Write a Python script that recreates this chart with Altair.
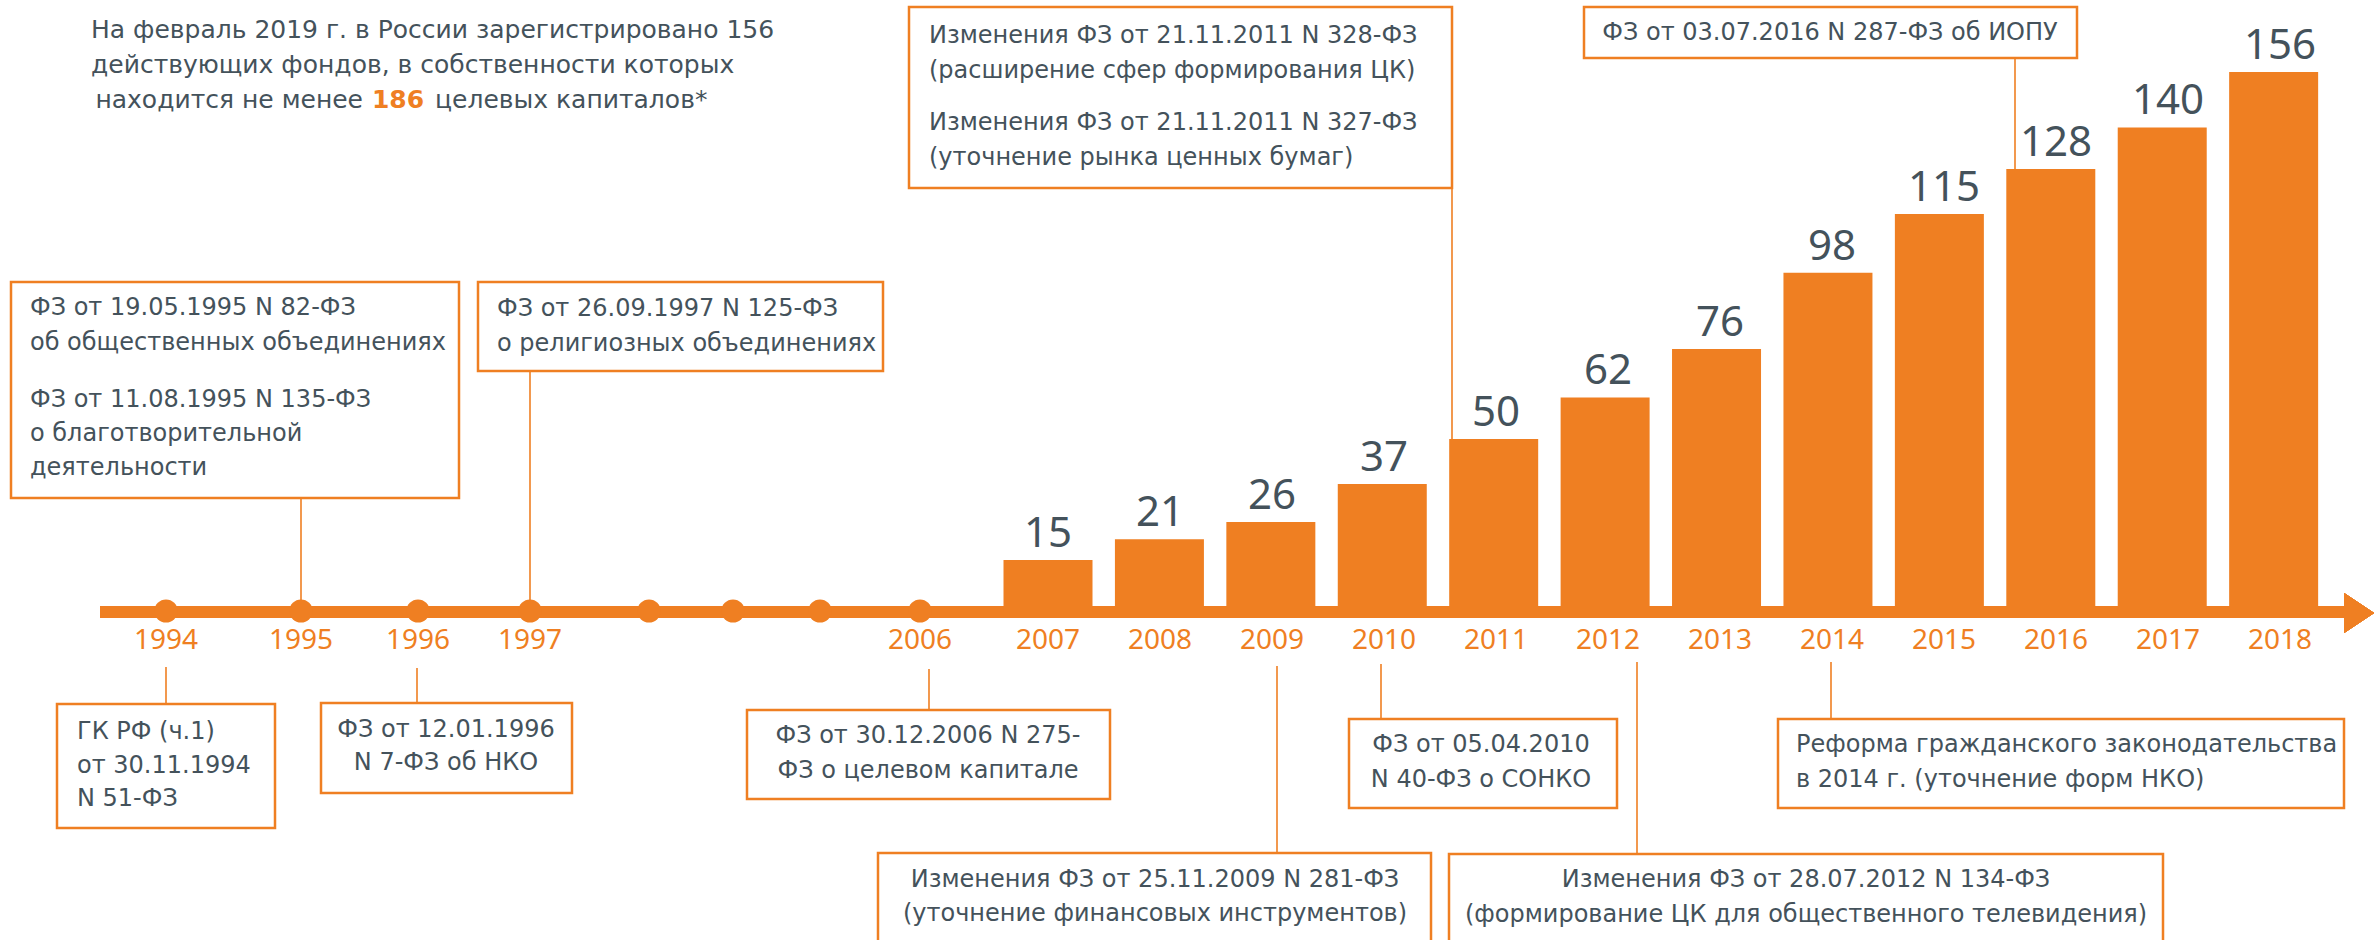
import altair as alt
import pandas as pd

# ---------------- data ----------------
bar_years = [2007, 2008, 2009, 2010, 2011, 2012, 2013, 2014, 2015, 2016, 2017, 2018]
bar_values = [15, 21, 26, 37, 50, 62, 76, 98, 115, 128, 140, 156]
dot_years = [1994, 1995, 1996, 1997, 2006]
gap_marks = [2000, 2002, 2004]          # ellipsis dots for the skipped years 1998-2005
label_years = [1994, 1995, 1996, 1997, 2006] + bar_years

intro_lines = [
    "На февраль 2019 г. в России зарегистрировано 156",
    "действующих фондов, в собственности которых",
]
intro_last = ["находится не менее", "186", "целевых капиталов*"]

annotation_text = {
    "A": ["ФЗ от 19.05.1995 N 82-ФЗ", "об общественных объединениях",
          "ФЗ от 11.08.1995 N 135-ФЗ", "о благотворительной", "деятельности"],
    "B": ["ФЗ от 26.09.1997 N 125-ФЗ", "о религиозных объединениях"],
    "C": ["Изменения ФЗ от 21.11.2011 N 328-ФЗ", "(расширение сфер формирования ЦК)",
          "Изменения ФЗ от 21.11.2011 N 327-ФЗ", "(уточнение рынка ценных бумаг)"],
    "D": ["ФЗ от 03.07.2016 N 287-ФЗ об ИОПУ"],
    "E": ["ГК РФ (ч.1)", "от 30.11.1994", "N 51-ФЗ"],
    "F": ["ФЗ от 12.01.1996", "N 7-ФЗ об НКО"],
    "G": ["ФЗ от 30.12.2006 N 275-", "ФЗ о целевом капитале"],
    "H": ["Изменения ФЗ от 25.11.2009 N 281-ФЗ", "(уточнение финансовых инструментов)"],
    "I": ["ФЗ от 05.04.2010", "N 40-ФЗ о СОНКО"],
    "J": ["Изменения ФЗ от 28.07.2012 N 134-ФЗ", "(формирование ЦК для общественного телевидения)"],
    "K": ["Реформа гражданского законодательства", "в 2014 г. (уточнение форм НКО)"],
}

# ---------------- layout (pixels) ----------------
ORANGE = "#EF7F22"
DARK = "#44525B"
FONT = "DejaVu Sans"
NUM_FONT = "Noto Sans"

# box: (x0, y0, x1, y1), text anchor x, alignment, line y's, connector (x, y_from, y_to)
layout = {
    "A": ((11, 282, 459, 498), 30, "left", [308, 343, 400, 434, 468], (301, 498, 612)),
    "B": ((478, 282, 883, 371), 497, "left", [309, 344], (530, 371, 612)),
    "C": ((909, 7, 1452, 188), 929, "left", [36, 71, 123, 158], (1452, 188, 450)),
    "D": ((1584, 7, 2077, 58), 1830, "center", [33], (2015, 58, 180)),
    "E": ((57, 704, 275, 828), 77, "left", [732, 766, 799], (166, 667, 704)),
    "F": ((321, 703, 572, 793), 446, "center", [730, 763], (417, 668, 703)),
    "G": ((747, 710, 1110, 799), 928, "center", [736, 771], (929, 669, 710)),
    "H": ((878, 853, 1431, 960), 1155, "center", [880, 914], (1277, 666, 853)),
    "I": ((1349, 719, 1617, 808), 1481, "center", [745, 780], (1381, 664, 719)),
    "J": ((1449, 854, 2163, 960), 1806, "center", [880, 915], (1637, 662, 854)),
    "K": ((1778, 719, 2344, 808), 1796, "left", [745, 780], (1831, 662, 719)),
}

XS = alt.Scale(domain=[1994, 1995, 1996, 1997, 2000, 2002, 2004, 2006, 2007, 2018],
               range=[166, 301, 418, 530, 649, 733, 820, 920, 1048, 2280],
               zero=False, nice=False)
YS = alt.Scale(domain=[0, 156], range=[612, 72], zero=True, nice=False)

# ---------------- tables ----------------
bars_df = pd.DataFrame({"year": bar_years, "value": bar_values})
dots_df = pd.DataFrame({"year": dot_years + gap_marks})
labels_df = pd.DataFrame({"year": label_years, "label": [str(y) for y in label_years]})

box_rows, link_rows, left_rows, center_rows = [], [], [], []
for key, lines in annotation_text.items():
    (x0, y0, x1, y1), tx, al, ys, (lx, ly0, ly1) = layout[key]
    box_rows.append({"x": x0, "x2": x1, "y": y0, "y2": y1})
    link_rows.append({"x": lx, "y": ly0, "y2": ly1})
    for t, yy in zip(lines, ys):
        (left_rows if al == "left" else center_rows).append({"x": tx, "y": yy, "text": t})
boxes_df = pd.DataFrame(box_rows)
links_df = pd.DataFrame(link_rows)
left_df = pd.DataFrame(left_rows)
center_df = pd.DataFrame(center_rows)

intro_df = pd.DataFrame({"x": [91, 91], "y": [30, 65], "text": intro_lines})
intro3a_df = pd.DataFrame({"x": [363], "y": [100], "text": [intro_last[0]]})
intro3b_df = pd.DataFrame({"x": [435], "y": [100], "text": [intro_last[2]]})
intro_num_df = pd.DataFrame({"x": [398], "y": [100], "text": [intro_last[1]]})

PX = lambda f: alt.X(f, scale=None, axis=None)
PY = lambda f: alt.Y(f, scale=None, axis=None)

links = alt.Chart(links_df).mark_rule(color=ORANGE, strokeWidth=1.6).encode(
    x=PX("x:Q"), y=PY("y:Q"), y2="y2:Q")

timeline = alt.Chart(bars_df).mark_rule(color=ORANGE, strokeWidth=11).encode(
    x=alt.value(100), x2=alt.value(2350), y=alt.value(612))

arrow = alt.Chart(bars_df).mark_point(
    shape="M-0.75,-1L0.75,0L-0.75,1Z", filled=True, color=ORANGE, size=1600,
    opacity=1, strokeWidth=0).encode(x=alt.value(2359), y=alt.value(613))

dots = alt.Chart(dots_df).mark_circle(size=540, color=ORANGE, opacity=1).encode(
    x=alt.X("year:Q", scale=XS, axis=None), y=alt.value(611))

bars = alt.Chart(bars_df).mark_bar(size=89, color=ORANGE).encode(
    x=alt.X("year:Q", scale=XS, axis=None),
    y=alt.Y("value:Q", scale=YS, axis=None))

values = alt.Chart(bars_df).mark_text(
    font=NUM_FONT, fontSize=42, color=DARK, baseline="bottom", dy=-4).encode(
    x=alt.X("year:Q", scale=XS, axis=None),
    y=alt.Y("value:Q", scale=YS, axis=None),
    text=alt.Text("value:Q", format="d"))

years = alt.Chart(labels_df).mark_text(
    font=NUM_FONT, fontSize=28, color=ORANGE, baseline="middle").encode(
    x=alt.X("year:Q", scale=XS, axis=None), y=alt.value(641), text="label:N")

boxes = alt.Chart(boxes_df).mark_rect(fill="white", stroke=ORANGE, strokeWidth=2.5).encode(
    x=PX("x:Q"), x2="x2:Q", y=PY("y:Q"), y2="y2:Q")

left_text = alt.Chart(left_df).mark_text(
    font=FONT, fontSize=24, color=DARK, align="left", baseline="middle").encode(
    x=PX("x:Q"), y=PY("y:Q"), text="text:N")

center_text = alt.Chart(center_df).mark_text(
    font=FONT, fontSize=24, color=DARK, align="center", baseline="middle").encode(
    x=PX("x:Q"), y=PY("y:Q"), text="text:N")

intro = alt.Chart(intro_df).mark_text(
    font=FONT, fontSize=25, color=DARK, align="left", baseline="middle").encode(
    x=PX("x:Q"), y=PY("y:Q"), text="text:N")
intro3a = alt.Chart(intro3a_df).mark_text(
    font=FONT, fontSize=25, color=DARK, align="right", baseline="middle").encode(
    x=PX("x:Q"), y=PY("y:Q"), text="text:N")
intro3b = alt.Chart(intro3b_df).mark_text(
    font=FONT, fontSize=25, color=DARK, align="left", baseline="middle").encode(
    x=PX("x:Q"), y=PY("y:Q"), text="text:N")
intro_num = alt.Chart(intro_num_df).mark_text(
    font=FONT, fontSize=25, color=ORANGE, fontWeight="bold", align="center",
    baseline="middle").encode(x=PX("x:Q"), y=PY("y:Q"), text="text:N")

chart = alt.layer(
    links, timeline, arrow, dots, bars, values, years, boxes,
    left_text, center_text, intro, intro3a, intro3b, intro_num
).resolve_scale(x="independent", y="independent").properties(
    width=2374, height=940, padding=0,
    autosize=alt.AutoSizeParams(type="none"),
    background="white"
).configure_view(stroke=None)

chart.save("out.html", embed_options={"renderer": "svg", "actions": False})
